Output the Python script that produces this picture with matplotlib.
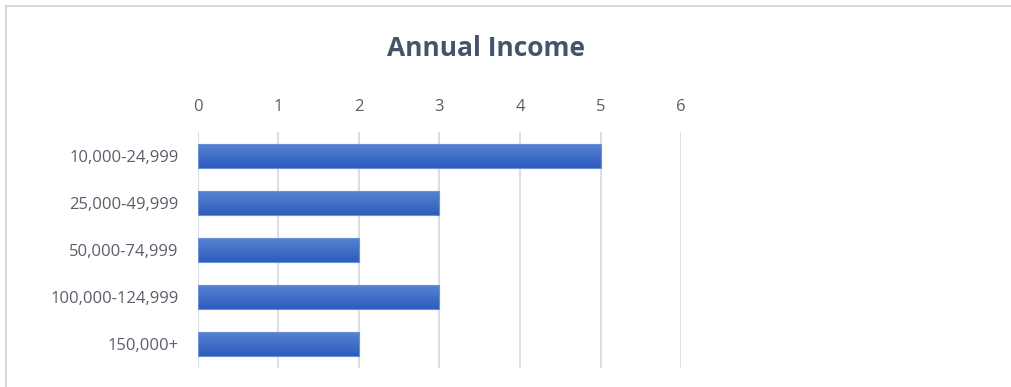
import matplotlib.pyplot as plt
import numpy as np
from matplotlib.colors import LinearSegmentedColormap
from matplotlib.patches import Rectangle

# Income brackets and number of respondents
CATEGORIES = ['10,000-24,999', '25,000-49,999', '50,000-74,999',
              '100,000-124,999', '150,000+']
COUNTS = [5, 3, 2, 3, 2]
X_TICKS = [0, 1, 2, 3, 4, 5, 6]

TEXT_COLOR = '#595F6B'
GRID_COLOR = '#DADFE7'

plt.rcParams['font.family'] = ['Open Sans', 'DejaVu Sans']

fig = plt.figure(figsize=(10.11, 3.87), dpi=100)
ax = fig.add_axes([0.1958, 0.0491, 0.4778, 0.6098])

# outer chart border (only top and left visible in the crop)
fig.patches.append(Rectangle((6 / 1011, -0.1), 1.2, (381 / 387) + 0.1,
                             transform=fig.transFigure, fill=False,
                             edgecolor='#D9D9D9', linewidth=1.5))

y = np.arange(len(CATEGORIES))
bars = ax.barh(y, COUNTS, height=0.51, color='none',
               edgecolor='#6B8FD8', linewidth=0.8, zorder=3)

# vertical gradient fill inside each bar, light on top, dark at bottom
grad = LinearSegmentedColormap.from_list('bar', ['#5B84D2', '#2C5DBD'])
g = np.linspace(0, 1, 64).reshape(-1, 1)
for b in bars:
    x0, y0 = b.get_x(), b.get_y()
    w, h = b.get_width(), b.get_height()
    im = ax.imshow(g, cmap=grad, aspect='auto', origin='upper',
                   extent=(x0, x0 + w, y0 + h, y0), zorder=2)
    im.set_clip_path(b)

ax.set_xlim(0, 6)
ax.set_ylim(len(CATEGORIES) - 0.5, -0.5)
ax.set_xticks(X_TICKS)
ax.set_yticks(y)
ax.set_yticklabels(CATEGORIES)
ax.xaxis.tick_top()
ax.tick_params(axis='x', length=0, pad=12, labelsize=12, labelcolor=TEXT_COLOR)
ax.tick_params(axis='y', length=0, pad=14, labelsize=12, labelcolor=TEXT_COLOR)
ax.grid(axis='x', color=GRID_COLOR, linewidth=1.5, zorder=0)
ax.set_axisbelow(True)
for s in ax.spines.values():
    s.set_visible(False)

fig.text(486 / 1011, 1 - 48 / 387, 'Annual Income', ha='center', va='center',
         fontsize=19, fontweight='bold', color='#44546A')

fig.savefig('out.png', dpi=100)
